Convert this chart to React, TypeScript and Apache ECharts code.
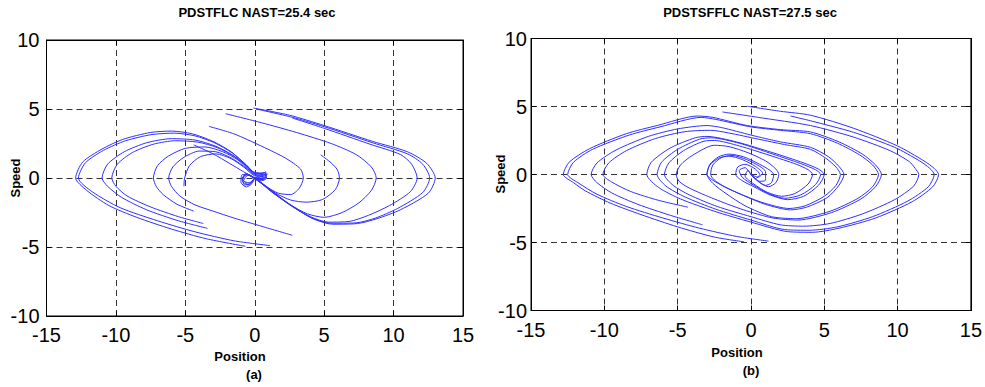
import React, { useEffect, useRef } from 'react';
import * as echarts from 'echarts';

// ---------- axis settings ----------
const xMin = -15, xMax = 15, xStep = 5;
const yMin = -10, yMax = 10, yStep = 5;
const titles = ['PDSTFLC NAST=25.4 sec', 'PDSTSFFLC NAST=27.5 sec'];
const subLabels = ['(a)', '(b)'];
const xName = 'Position';
const yName = 'Speed';

// ---------- panel (a) trajectories: [position, speed] ----------
const aU1 = [[-0.1,5.07],[2.5,4.55],[5,3.8],[8.5,2.65],[11,1.9],[12.4,1.05],[13.0,0],[12.5,-1.1],[10.5,-2.3],[8.8,-2.95],[7.4,-3.3],[5.6,-3.35],[4.2,-2.95],[2.8,-2.1],[1.5,-1.15],[0.5,-0.35],[-0.4,0.2],[-0.9,0.25],[-1.0,-0.3],[-0.6,-0.65],[-0.2,-0.4],[0,0]];
const aU2 = [[0.1,5.0],[2.7,4.4],[5,3.72],[8.5,2.55],[11,1.75],[12.1,1.0],[12.6,0],[12.1,-1.05],[10.3,-2.2],[8.7,-2.9],[7.3,-3.25],[5.5,-3.28],[4.1,-2.9],[2.7,-2.05],[1.4,-1.1],[0.4,-0.3],[-0.5,0.25],[-0.9,0],[-0.75,-0.5],[-0.35,-0.45],[0,0]];
const aU3 = [[2.7,4.35],[5,3.6],[8.3,2.45],[10.5,1.7],[11.3,1.0],[11.7,0],[11.2,-1.0],[9.7,-2.0],[8.2,-2.7],[6.8,-3.15],[5.3,-3.2],[4.0,-2.8],[2.6,-2.0],[1.3,-1.05],[0.3,-0.25],[-0.6,0.3],[-0.85,-0.1],[-0.5,-0.45],[0,0]];
const aU4 = [[-2.1,4.66],[0.5,4.0],[3,3.3],[5.5,2.5],[7.3,1.7],[8.4,0.8],[8.75,0],[8.4,-0.9],[7.5,-1.8],[6.3,-2.5],[5,-2.85],[3.8,-2.6],[2.5,-1.9],[1.2,-1.0],[0.3,-0.25],[-0.7,0.3],[-0.9,-0.2],[-0.5,-0.5],[0,0]];
const aU5 = [[4.75,1.68],[5.5,1.1],[5.95,0.6],[6.1,0],[5.8,-0.85],[4.85,-1.57],[3.7,-1.75],[2.6,-1.6],[1.5,-1.1],[0.5,-0.4],[-0.5,0.2],[-0.8,-0.2],[-0.4,-0.35],[0,0]];
const aU6 = [[-3.3,3.74],[-1.5,3.2],[0.5,2.3],[2.2,1.45],[3.3,0.65],[3.5,0],[3.2,-0.75],[2.6,-1.2],[1.7,-1.1],[0.8,-0.6],[0,0]];
const aU7 = [[-4.4,2.4],[-3,1.75],[-1.8,1.05],[-0.8,0.45],[0,0]];
const aL1 = [[-0.67,-4.95],[-3.5,-4.4],[-6,-3.7],[-8.5,-2.85],[-10.5,-2.0],[-12.1,-0.9],[-12.9,0],[-12.4,1.15],[-11,2.1],[-9.5,2.8],[-7.5,3.3],[-6,3.4],[-4.5,3.2],[-3,2.65],[-1.7,1.9],[-0.7,1.0],[0,0.3],[0.7,0.4],[0.85,0],[0.5,-0.2],[0,0]];
const aL2 = [[1.1,-4.9],[-1.5,-4.55],[-4.3,-3.9],[-7,-3.1],[-9.7,-2.15],[-11.7,-1.0],[-12.7,0],[-12.2,1.1],[-10.9,2.0],[-9.3,2.7],[-7.4,3.15],[-5.8,3.25],[-4.3,3.05],[-2.9,2.55],[-1.6,1.8],[-0.6,0.95],[0.1,0.3],[0.8,0.3],[0.7,-0.1],[0,0]];
const aL3 = [[-3.4,-3.65],[-5.5,-3.1],[-7.8,-2.3],[-9.6,-1.4],[-10.6,-0.6],[-11.0,0],[-10.6,1.0],[-9.4,1.9],[-7.8,2.55],[-6,2.85],[-4.3,2.75],[-2.8,2.3],[-1.5,1.6],[-0.5,0.8],[0.2,0.2],[0.8,0.45],[0.7,0],[0.3,-0.15],[0,0]];
const aL4 = [[-3.7,-3.3],[-5.5,-2.8],[-7.5,-2.1],[-9.2,-1.3],[-10.0,-0.6],[-10.3,0],[-9.9,1.0],[-8.8,1.85],[-7.3,2.45],[-5.7,2.7],[-4.1,2.6],[-2.7,2.2],[-1.4,1.5],[-0.4,0.7],[0.3,0.2],[0.9,0.3],[0.6,-0.1],[0,0]];
const aL5 = [[-4.4,-2.4],[-5.6,-1.9],[-6.6,-1.2],[-7.1,-0.6],[-7.3,0],[-7.0,0.9],[-6.2,1.6],[-5.0,2.15],[-3.6,2.25],[-2.3,1.9],[-1.2,1.3],[-0.3,0.5],[0.5,0.3],[0.6,-0.05],[0,0]];
const aL6 = [[2.7,-4.15],[0.5,-3.5],[-1.5,-2.9],[-3,-2.4],[-4.3,-1.95],[-5.4,-1.3],[-6.0,-0.6],[-6.2,0],[-5.9,0.8],[-5.1,1.5],[-4.0,1.95],[-2.8,1.9],[-1.6,1.4],[-0.6,0.7],[0.2,0.15],[0.7,0.2],[0.5,-0.1],[0,0]];
const aL7 = [[-5.1,-0.6],[-5.05,0],[-4.7,0.9],[-3.9,1.55],[-2.8,1.75],[-1.7,1.4],[-0.8,0.8],[0,0.15],[0.6,0.1],[0,0]];

// ---------- panel (b) trajectories: [position, speed] ----------
const bTA = [[-0.25,5.02],[2,4.65],[4.06,4.36],[7,3.4],[10,2.1],[11.8,1.0],[12.5,0.45],[12.8,0],[12.4,-0.9],[11,-2.0],[8.5,-3.2],[6,-3.95],[4.2,-4.25],[2.5,-4.2],[0,-3.5],[-2.5,-2.7],[-4.8,-1.8],[-6.3,-0.95],[-7.1,0],[-6.8,0.9],[-5.5,1.95],[-3.8,2.7],[-3,2.8],[-1,2.4],[1.5,1.6],[3.6,0.85],[4.6,0.4],[5.0,0],[4.6,-0.8],[3.6,-1.6],[2.5,-1.85],[1.3,-1.5],[0.2,-0.9],[-0.6,-0.45],[-1.04,0],[-0.9,0.55],[-0.4,0.75],[0.3,0.4],[0.6,0],[0.3,-0.3],[0,0]];
const bTB = [[2.7,4.3],[4.06,3.95],[7,3.1],[9.8,2.0],[11.5,1.0],[12.2,0.45],[12.5,0],[12.1,-0.9],[10.7,-1.95],[8.3,-3.1],[5.9,-3.85],[4,-4.1],[2.3,-4.05],[0,-3.35],[-2.4,-2.55],[-4.5,-1.65],[-5.8,-0.85],[-6.4,0],[-6.1,0.9],[-5,1.85],[-3.5,2.6],[-2.7,2.7],[-0.8,2.3],[1.5,1.5],[3.4,0.8],[4.4,0.35],[4.75,0],[4.4,-0.75],[3.4,-1.5],[2.3,-1.75],[1.2,-1.4],[0.2,-0.8],[-0.6,-0.2],[-0.8,0.3],[-0.4,0.5],[0,0]];
const bTC = [[-1.95,4.6],[0.5,4.2],[4.06,3.6],[7,2.75],[9.5,1.75],[10.8,0.95],[11.2,0.45],[11.45,0],[11.1,-0.85],[9.8,-1.85],[7.6,-2.9],[5.4,-3.6],[3.6,-3.8],[2,-3.7],[0,-3.1],[-2.3,-2.35],[-4.2,-1.5],[-5.3,-0.8],[-5.9,0],[-5.6,0.85],[-4.6,1.75],[-3.2,2.45],[-2.5,2.5],[-0.8,2.1],[1.3,1.4],[3.1,0.75],[3.9,0.35],[4.2,0],[3.9,-0.7],[3.0,-1.4],[2.1,-1.6],[1.1,-1.3],[0.2,-0.7],[-0.4,-0.1],[-0.2,0.3],[0,0]];
const bBA = [[-0.48,-4.95],[-2.5,-4.6],[-5,-3.85],[-7.5,-2.95],[-9.6,-2.1],[-11.3,-1.2],[-12.1,-0.6],[-12.8,0],[-12.4,0.9],[-11,1.9],[-8.5,3.0],[-6.4,3.6],[-3.65,4.3],[-2.6,4.2],[-0.25,3.6],[2,3.3],[4.06,3.13],[6,2.4],[7.6,1.5],[8.5,0.7],[8.9,0],[8.5,-0.9],[7.5,-1.8],[5.5,-2.8],[3.2,-3.35],[1.5,-3.2],[-0.5,-2.6],[-2.5,-1.8],[-4.2,-1.0],[-4.9,-0.5],[-5.1,0],[-4.8,0.7],[-4,1.4],[-2.5,2.15],[-1.5,2.05],[-0.2,1.6],[1,1.0],[1.7,0.4],[1.9,0],[1.7,-0.6],[1.2,-0.9],[0.6,-0.6],[0,0]];
const bBB = [[1.2,-4.9],[-1,-4.55],[-3.5,-3.95],[-6,-3.2],[-8.5,-2.35],[-10.5,-1.45],[-11.8,-0.6],[-12.5,0],[-12.1,0.9],[-10.8,1.85],[-8.3,2.9],[-6.2,3.5],[-3.4,4.2],[-2.4,4.05],[0,3.5],[2,3.25],[4.06,3.0],[5.9,2.3],[7.4,1.45],[8.3,0.7],[8.7,0],[8.3,-0.9],[7.3,-1.75],[5.4,-2.7],[3.1,-3.25],[1.4,-3.1],[-0.4,-2.3],[-1.7,-1.4],[-2.6,-0.65],[-3.0,0],[-2.8,0.75],[-2.2,1.3],[-1.5,1.5],[-0.5,1.3],[0.6,0.75],[1.3,0.3],[1.55,0],[1.4,-0.6],[1.0,-0.8],[0.5,-0.5],[0,0]];
const bBC = [[-3.3,-3.7],[-5.5,-3.0],[-7.7,-2.2],[-9.5,-1.35],[-10.5,-0.6],[-10.9,0],[-10.5,0.85],[-9.2,1.8],[-7,2.8],[-5,3.35],[-3,3.6],[-2,3.45],[0,2.9],[2,2.4],[4.06,2.0],[5.3,1.3],[6,0.6],[6.35,0],[6.0,-0.8],[5.2,-1.7],[3.8,-2.4],[2.7,-2.6],[1,-2.2],[-0.6,-1.5],[-1.8,-0.9],[-2.5,-0.4],[-2.75,0],[-2.6,0.7],[-2.0,1.25],[-1.3,1.4],[-0.3,1.1],[0.6,0.6],[1.0,0.2],[1.0,-0.42],[0.6,-0.5],[0,0]];
const bBD = [[-4.3,-2.4],[-6.3,-1.9],[-8.2,-1.25],[-9.5,-0.55],[-10.1,0],[-9.7,0.85],[-8.5,1.75],[-6.5,2.65],[-4.5,3.15],[-2.75,3.25],[-1.5,3.05],[0.5,2.6],[2.3,2.2],[4.06,1.85],[5.1,1.2],[5.8,0.55],[6.1,0],[5.8,-0.8],[5.0,-1.6],[3.7,-2.3],[2.6,-2.5],[0.9,-2.1],[-0.7,-1.45],[-1.9,-0.85],[-2.7,-0.35],[-3.0,0],[-2.8,0.7],[-2.2,1.2],[-1.5,1.35],[-0.6,1.1],[0.3,0.6],[0.8,0.1],[0.5,-0.2],[0,0]];

const panelA = [aU1, aU2, aU3, aU4, aU5, aU6, aU7, aL1, aL2, aL3, aL4, aL5, aL6, aL7];
const panelB = [bTA, bTB, bTC, bBA, bBB, bBC, bBD];

const FONT = '"Liberation Sans", Arial, Helvetica, sans-serif';
const LINE_COLOR = '#3030ff';

function buildOption() {
  const grids = [
    { left: 46.5, top: 40, width: 416.5, height: 276 },
    { left: 531, top: 38.5, width: 440, height: 272 },
  ].map((g) => ({ ...g, show: true, borderColor: '#000', borderWidth: 1, backgroundColor: 'transparent' }));

  const tick = { show: true, inside: true, length: 5, lineStyle: { color: '#000', width: 1 } };
  const split = { show: true, lineStyle: { color: '#333', type: [6, 4], width: 1 } };
  const label = { show: true, color: '#000', fontSize: 20, fontFamily: FONT };

  const xAxis: any[] = [];
  const yAxis: any[] = [];
  [0, 1].forEach((gi) => {
    xAxis.push({
      gridIndex: gi, type: 'value', min: xMin, max: xMax, interval: xStep, position: 'bottom',
      axisLine: { show: true, onZero: false, lineStyle: { color: '#000', width: 1 } },
      axisTick: tick, axisLabel: { ...label, margin: 9 }, splitLine: split,
    });
    xAxis.push({
      gridIndex: gi, type: 'value', min: xMin, max: xMax, interval: xStep, position: 'top',
      axisLine: { show: true, onZero: false, lineStyle: { color: '#000', width: 1 } },
      axisTick: tick, axisLabel: { show: false }, splitLine: { show: false },
    });
    yAxis.push({
      gridIndex: gi, type: 'value', min: yMin, max: yMax, interval: yStep, position: 'left',
      axisLine: { show: true, onZero: false, lineStyle: { color: '#000', width: 1 } },
      axisTick: tick, axisLabel: { ...label, margin: gi === 0 ? 7 : 4 }, splitLine: split,
    });
    yAxis.push({
      gridIndex: gi, type: 'value', min: yMin, max: yMax, interval: yStep, position: 'right',
      axisLine: { show: true, onZero: false, lineStyle: { color: '#000', width: 1 } },
      axisTick: tick, axisLabel: { show: false }, splitLine: { show: false },
    });
  });

  const mk = (data: number[][], gi: number) => ({
    type: 'line', data, xAxisIndex: gi * 2, yAxisIndex: gi * 2,
    showSymbol: false, symbol: 'none', smooth: 0.25, silent: true,
    lineStyle: { color: LINE_COLOR, width: 1 },
  });
  const series = [
    ...panelA.map((d) => mk(d, 0)),
    ...panelB.map((d) => mk(d, 1)),
  ];

  const txt = (x: number, y: number, text: string, font: string, rotation = 0) => ({
    type: 'text', x, y, rotation, silent: true,
    style: { text, font, fill: '#000', align: 'center', verticalAlign: 'middle', textAlign: 'center', textVerticalAlign: 'middle' },
  });
  const bold = `bold 13px ${FONT}`;
  const graphic = [
    txt(257, 12, titles[0], bold),
    txt(750, 12, titles[1], bold),
    txt(240, 356, xName, bold),
    txt(254, 374, subLabels[0], bold),
    txt(737, 352, xName, bold),
    txt(751, 370, subLabels[1], bold),
    txt(15, 178, yName, bold, Math.PI / 2),
    txt(500, 174, yName, bold, Math.PI / 2),
  ];

  return { animation: false, backgroundColor: '#fff', grid: grids, xAxis, yAxis, series, graphic };
}

export default function App() {
  const ref = useRef<HTMLDivElement>(null);
  useEffect(() => {
    if (!ref.current) return;
    const chart = echarts.init(ref.current, undefined, { renderer: 'svg' });
    chart.setOption(buildOption() as any);
    return () => chart.dispose();
  }, []);
  return (
    <div
      ref={ref}
      style={{ position: 'absolute', left: 0, top: 0, width: 985, height: 387, background: '#fff' }}
    />
  );
}
